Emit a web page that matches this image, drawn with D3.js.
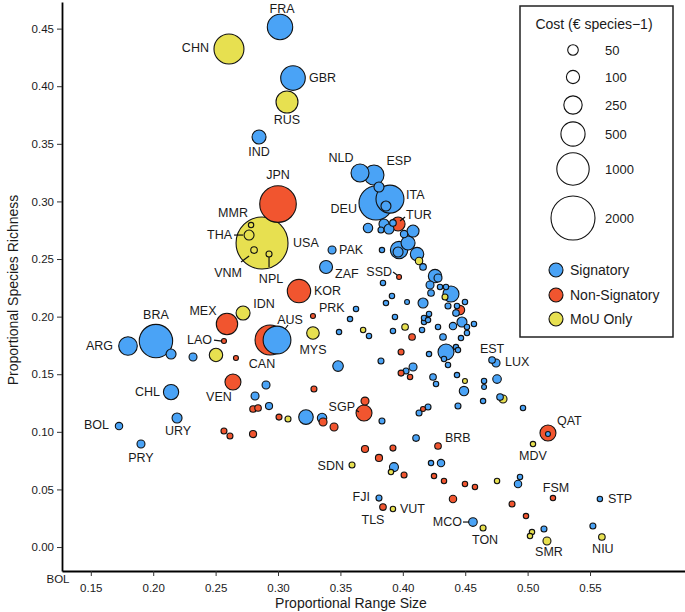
<!DOCTYPE html>
<html>
<head>
<meta charset="utf-8">
<script src="https://cdn.jsdelivr.net/npm/d3@7/dist/d3.min.js"></script>
<style>
  html, body { margin: 0; padding: 0; background: #fff; }
  svg text { font-family: "Liberation Sans", Arial, Helvetica, sans-serif; fill: #1a1a1a; }
</style>
</head>
<body>
<svg id="chart" width="685" height="612"></svg>
<script>
// ---------------- DATA ----------------
// [code, proportional range size, proportional species richness, cost (€ species-1)]
const signatory = [
  ["FRA", 0.3016, 0.4514, 564], ["GBR", 0.3120, 0.4071, 522], ["IND", 0.2848, 0.3559, 119],
  ["NLD", 0.3657, 0.3247, 237], ["ESP", 0.3769, 0.3229, 312], ["DEU", 0.3785, 0.2986, 1118],
  ["ITA", 0.3897, 0.3020, 711], ["PAK", 0.3433, 0.2578, 17], ["ZAF", 0.3385, 0.2431, 95],
  ["AUS", 0.2992, 0.1797, 700], ["ARG", 0.1798, 0.1745, 259], ["BRA", 0.2022, 0.1788, 1073],
  ["CHL", 0.2143, 0.1345, 153], ["BOL", 0.1726, 0.1050, 12], ["URY", 0.2191, 0.1120, 41],
  ["PRY", 0.1902, 0.0894, 17], ["FJI", 0.3809, 0.0425, 3.6], ["EST", 0.4715, 0.1623, 6.6],
  ["LUX", 0.4747, 0.1597, 17], ["STP", 0.5579, 0.0417, 1.5], ["MCO", 0.4562, 0.0217, 23],
  ["", 0.5163, 0.0981, 0.5],
  ["", 0.3809, 0.3125, 41], ["", 0.3865, 0.2960, 41],
  ["", 0.2143, 0.1675, 41], ["", 0.2319, 0.1649, 17], ["", 0.2816, 0.1311, 17],
  ["", 0.2904, 0.1406, 17], ["", 0.2928, 0.1224, 10], ["", 0.3224, 0.1128, 134],
  ["", 0.3353, 0.1120, 33], ["", 0.3481, 0.1571, 50], ["", 0.3825, 0.1615, 3.6],
  ["", 0.4082, 0.1563, 17], ["", 0.4026, 0.1528, 3.6], ["", 0.3833, 0.1094, 3.6],
  ["", 0.4130, 0.1163, 3.6], ["", 0.4202, 0.1215, 3.6], ["", 0.4106, 0.0946, 6.6],
  ["", 0.3929, 0.0694, 28], ["", 0.4242, 0.1476, 6.6], ["", 0.4266, 0.1415, 1.5],
  ["", 0.4362, 0.1580, 1.5], ["", 0.4330, 0.1632, 1.5], ["", 0.4434, 0.1493, 1.5],
  ["", 0.4490, 0.1354, 33], ["", 0.4651, 0.1441, 1.5], ["", 0.4651, 0.1389, 0.5],
  ["", 0.4755, 0.1458, 23], ["", 0.4779, 0.1302, 6.6], ["", 0.4643, 0.1267, 1.5],
  ["", 0.4442, 0.1224, 3.6], ["", 0.4963, 0.1207, 1.5], ["", 0.4226, 0.0729, 1.5],
  ["", 0.4306, 0.0729, 12], ["", 0.4939, 0.0608, 1.5], ["", 0.4923, 0.0547, 12],
  ["", 0.5131, 0.0156, 3.6], ["", 0.5523, 0.0182, 3.6], ["", 0.4210, 0.1675, 1.5],
  ["", 0.4322, 0.1823, 6.6], ["", 0.4466, 0.1814, 1.5], ["", 0.4426, 0.1736, 1.5],
  ["", 0.4442, 0.1710, 1.5], ["", 0.3489, 0.1866, 1.5], ["", 0.3729, 0.1832, 1.5],
  ["", 0.3921, 0.1875, 1.5], ["", 0.4154, 0.1884, 1.5], ["", 0.4170, 0.1953, 1.5],
  ["", 0.4282, 0.1910, 1.5], ["", 0.4402, 0.1918, 12], ["", 0.4474, 0.1953, 41],
  ["", 0.4514, 0.1910, 1.5], ["", 0.4514, 0.1858, 1.5], ["", 0.4570, 0.1936, 1.5],
  ["", 0.3577, 0.1979, 1.5], ["", 0.3625, 0.2066, 1.5], ["", 0.3937, 0.1997, 1.5],
  ["", 0.3913, 0.2179, 1.5], ["", 0.4034, 0.2127, 0.5], ["", 0.3865, 0.2118, 1.5],
  ["", 0.3841, 0.2292, 1.5], ["", 0.3833, 0.2578, 1.5], ["", 0.3721, 0.2769, 33],
  ["", 0.3849, 0.2804, 41], ["", 0.3889, 0.2760, 41], ["", 0.3825, 0.2752, 3.6],
  ["", 0.3921, 0.2813, 6.6], ["", 0.4082, 0.2743, 75], ["", 0.4010, 0.2717, 12],
  ["", 0.3970, 0.2578, 217], ["", 0.4042, 0.2639, 119], ["", 0.3962, 0.2561, 41],
  ["", 0.4114, 0.2543, 105], ["", 0.4162, 0.2431, 6.6], ["", 0.4258, 0.2352, 105],
  ["", 0.4282, 0.2335, 17], ["", 0.4218, 0.2274, 17], ["", 0.4226, 0.2205, 6.6],
  ["", 0.4298, 0.2257, 1.5], ["", 0.4346, 0.2257, 1.5], ["", 0.4386, 0.2196, 173],
  ["", 0.4362, 0.2092, 3.6], ["", 0.4434, 0.2092, 1.5], ["", 0.4426, 0.2031, 6.6],
  ["", 0.4498, 0.2127, 1.5], ["", 0.4162, 0.2118, 41], ["", 0.4170, 0.1988, 1.5],
  ["", 0.4210, 0.2023, 1.5], ["", 0.4202, 0.1970, 1.5], ["", 0.4346, 0.1693, 173]
];

const nonSignatory = [
  ["JPN", 0.3000, 0.2977, 1321], ["TUR", 0.3962, 0.2804, 119], ["KOR", 0.3168, 0.2222, 461],
  ["SSD", 0.3970, 0.2344, 0.5], ["PRK", 0.3280, 0.2005, 0.6], ["MEX", 0.2591, 0.1936, 370],
  ["LAO", 0.2567, 0.1788, 0.6], ["CAN", 0.2936, 0.1797, 836], ["VEN", 0.2639, 0.1432, 173],
  ["SGP", 0.3689, 0.1163, 173], ["TLS", 0.3841, 0.0347, 6.6], ["QAT", 0.5163, 0.0990, 173],
  ["BRB", 0.4282, 0.0877, 6.6], ["FSM", 0.5203, 0.0425, 1.5],
  ["", 0.2663, 0.1641, 0.6], ["", 0.2800, 0.1198, 6.6], ["", 0.2840, 0.1207, 6.6],
  ["", 0.2567, 0.1007, 3.6], ["", 0.2615, 0.0964, 3.6], ["", 0.2800, 0.0981, 10],
  ["", 0.3288, 0.1372, 3.6], ["", 0.3008, 0.1128, 3.6], ["", 0.3361, 0.1085, 17],
  ["", 0.3449, 0.1042, 17], ["", 0.3697, 0.1267, 17], ["", 0.3986, 0.1510, 3.6],
  ["", 0.4058, 0.1476, 1.5], ["", 0.3986, 0.1693, 3.6], ["", 0.4074, 0.1823, 6.6],
  ["", 0.4162, 0.1198, 0.6], ["", 0.3697, 0.0851, 10], ["", 0.3809, 0.0773, 10],
  ["", 0.3921, 0.0859, 3.6], ["", 0.4010, 0.0625, 3.6], ["", 0.4250, 0.0616, 1.5],
  ["", 0.4330, 0.0573, 1.5], ["", 0.4498, 0.0547, 1.5], ["", 0.4578, 0.0521, 1.5],
  ["", 0.4402, 0.0417, 12], ["", 0.4875, 0.0373, 3.6], ["", 0.4987, 0.0269, 1.5],
  ["", 0.4458, 0.2057, 33]
];

const mouOnly = [
  ["CHN", 0.2607, 0.4323, 836], ["RUS", 0.3072, 0.3863, 396], ["USA", 0.2872, 0.2639, 2880],
  ["MMR", 0.2784, 0.2795, 1.5], ["THA", 0.2768, 0.2708, 41], ["VNM", 0.2808, 0.2578, 6.6],
  ["NPL", 0.2928, 0.2543, 3.6], ["IDN", 0.2720, 0.2031, 119], ["MYS", 0.3280, 0.1858, 87],
  ["SDN", 0.3593, 0.0712, 3.6], ["VUT", 0.3921, 0.0330, 1.5], ["MDV", 0.5043, 0.0894, 1.5],
  ["TON", 0.4643, 0.0165, 3.6], ["SMR", 0.5155, 0.0052, 17], ["NIU", 0.5595, 0.0087, 6.6],
  ["", 0.2503, 0.1667, 105], ["", 0.3080, 0.1111, 3.6], ["", 0.3905, 0.0651, 1.5],
  ["", 0.4130, 0.2483, 12], ["", 0.4338, 0.2170, 3.6], ["", 0.3682, 0.1884, 1.5],
  ["", 0.4018, 0.1910, 6.6], ["", 0.4498, 0.1441, 0.5], ["", 0.4803, 0.1285, 17],
  ["", 0.4755, 0.0573, 1.5], ["", 0.5035, 0.0130, 1.5], ["", 0.5019, 0.0095, 1.5]
];

const xTicks = [0.15, 0.20, 0.25, 0.30, 0.35, 0.40, 0.45, 0.50, 0.55];
const yTicks = [0.00, 0.05, 0.10, 0.15, 0.20, 0.25, 0.30, 0.35, 0.40, 0.45];
const legendCosts = [50, 100, 250, 500, 1000, 2000];
const statusNames = ["Signatory", "Non-Signatory", "MoU Only"];

// ---------------- LAYOUT (labels: offsets in px from the point) ----------------
const labelLayout = {
  FRA: [2, -18, "middle"], CHN: [-20, -1, "end"], GBR: [16, 0, "start"], RUS: [0, 18, "middle"],
  IND: [0, 15, "middle"], NLD: [-19, -15, "middle"], ESP: [25, -14, "middle"], DEU: [-19, 6, "end"],
  ITA: [16, -4, "start"], TUR: [8, -9, "start"], JPN: [0, -29, "middle"], USA: [31, 0, "start"],
  MMR: [-18, -12, "middle"], THA: [-17, 0, "end"], VNM: [-26, 23, "middle"], NPL: [2, 25, "middle"],
  KOR: [15, 0, "start"], PAK: [7, 0, "start"], ZAF: [9, 7, "start"], SSD: [-7, -5, "end"],
  PRK: [6, -8, "start"], IDN: [21, -9, "middle"], MEX: [-24, -13, "middle"], LAO: [-12, -1, "end"],
  AUS: [13, -20, "middle"], CAN: [-8, 24, "middle"], MYS: [0, 17, "middle"], BRA: [0, -26, "middle"],
  ARG: [-15, 0, "end"], CHL: [-11, 0, "end"], VEN: [-14, 15, "middle"], BOL: [-10, -1, "end"],
  URY: [1, 13, "middle"], PRY: [0, 14, "middle"], SGP: [-9, -6, "end"], SDN: [-8, 1, "end"],
  FJI: [-9, -1, "end"], TLS: [-10, 13, "middle"], VUT: [7, 0, "start"], EST: [0, -11, "middle"],
  LUX: [9, -1, "start"], QAT: [9, -12, "start"], MDV: [0, 12, "middle"], BRB: [7, -8, "start"],
  FSM: [3, -10, "middle"], STP: [8, 0, "start"], MCO: [-11, 0, "end"], TON: [2, 12, "middle"],
  SMR: [2, 11, "middle"], NIU: [1, 12, "middle"]
};
const leaderLayout = {
  THA: [[-15, 0], [-6, 0]], VNM: [[-13, 12], [-5, 6]], NPL: [[0, 3], [0, 13]],
  LAO: [[-10, -1], [-2, 0]], AUS: [[11, -15], [8, -11]], SSD: [[-6, -5], [-2, -2]],
  TUR: [[7, -7], [2, -3]], SGP: [[-8, -3], [-5, -1]], MCO: [[-10, 0], [-4, 0]]
};

// ---------------- CHART ----------------
const svg = d3.select("#chart");
const colors = { "Signatory": "#4aa3f6", "Non-Signatory": "#f1552f", "MoU Only": "#e7e050" };

const x = d3.scaleLinear().domain([0.12692, 0.6261]).range([62, 685]);
const y = d3.scaleLinear().domain([-0.0208, 0.4731]).range([571, 2]);
const r = d3.scaleSqrt().domain([0, 2000]).range([2.16, 22]);

const points = [
  ...signatory.map(d => ({ code: d[0], x: d[1], y: d[2], cost: d[3], status: "Signatory" })),
  ...nonSignatory.map(d => ({ code: d[0], x: d[1], y: d[2], cost: d[3], status: "Non-Signatory" })),
  ...mouOnly.map(d => ({ code: d[0], x: d[1], y: d[2], cost: d[3], status: "MoU Only" }))
].sort((a, b) => b.cost - a.cost);

// axes
const xAxis = d3.axisBottom(x).tickValues(xTicks).tickFormat(d3.format(".2f")).tickSize(5).tickSizeOuter(0);
const yAxis = d3.axisLeft(y).tickValues(yTicks).tickFormat(d3.format(".2f")).tickSize(5).tickSizeOuter(0);

const gx = svg.append("g").attr("transform", "translate(0,571)").call(xAxis);
const gy = svg.append("g").attr("transform", "translate(62,0)").call(yAxis);
[gx, gy].forEach(g => {
  g.select(".domain").attr("stroke", "#000").attr("stroke-width", 1.8);
  g.selectAll(".tick line").attr("stroke", "#333").attr("stroke-width", 1);
  g.selectAll(".tick text").attr("font-size", 11.5).attr("fill", "#333")
    .style("font-family", "'Liberation Sans', Arial, sans-serif");
});
gx.selectAll(".tick text").attr("dy", "1.1em");

svg.append("text").attr("x", 351).attr("y", 608).attr("text-anchor", "middle")
  .attr("font-size", 14).text("Proportional Range Size");
svg.append("text").attr("transform", "translate(18,290) rotate(-90)").attr("text-anchor", "middle")
  .attr("font-size", 14).text("Proportional Species Richness");
// stray label beneath axis in the source figure
svg.append("text").attr("x", 58).attr("y", 583).attr("text-anchor", "middle")
  .attr("font-size", 11.5).attr("fill", "#333").text("BOL");

// points
svg.append("g").selectAll("circle").data(points).join("circle")
  .attr("cx", d => x(d.x)).attr("cy", d => y(d.y)).attr("r", d => r(d.cost))
  .attr("fill", d => colors[d.status]).attr("stroke", "#111").attr("stroke-width", 1.1);

// leaders
const byCode = new Map(points.filter(d => d.code).map(d => [d.code, d]));
const lg = svg.append("g");
Object.entries(leaderLayout).forEach(([code, seg]) => {
  const p = byCode.get(code);
  lg.append("line")
    .attr("x1", x(p.x) + seg[0][0]).attr("y1", y(p.y) + seg[0][1])
    .attr("x2", x(p.x) + seg[1][0]).attr("y2", y(p.y) + seg[1][1])
    .attr("stroke", "#111").attr("stroke-width", 1.2);
});

// labels
svg.append("g").selectAll("text").data(points.filter(d => d.code && labelLayout[d.code])).join("text")
  .attr("x", d => x(d.x) + labelLayout[d.code][0])
  .attr("y", d => y(d.y) + labelLayout[d.code][1])
  .attr("text-anchor", d => labelLayout[d.code][2])
  .attr("dominant-baseline", "central")
  .attr("font-size", 12.5).text(d => d.code);

// legend
const leg = svg.append("g");
leg.append("rect").attr("x", 520).attr("y", 6).attr("width", 153).attr("height", 331)
  .attr("fill", "#fff").attr("stroke", "#222").attr("stroke-width", 1.5);
leg.append("text").attr("x", 594).attr("y", 24).attr("text-anchor", "middle")
  .attr("dominant-baseline", "central").attr("font-size", 14).text("Cost (€ species−1)");
const legY = [50, 77, 105, 134, 169, 218];
legendCosts.forEach((c, i) => {
  leg.append("circle").attr("cx", 573).attr("cy", legY[i]).attr("r", r(c))
    .attr("fill", "#fff").attr("stroke", "#111").attr("stroke-width", 1.1);
  leg.append("text").attr("x", 605).attr("y", legY[i]).attr("dominant-baseline", "central")
    .attr("font-size", 13).text(c);
});
const statY = [270, 295, 319];
statusNames.forEach((s, i) => {
  leg.append("circle").attr("cx", 556).attr("cy", statY[i]).attr("r", 7)
    .attr("fill", colors[s]).attr("stroke", "#111").attr("stroke-width", 1.1);
  leg.append("text").attr("x", 570).attr("y", statY[i]).attr("dominant-baseline", "central")
    .attr("font-size", 14).text(s);
});
</script>
</body>
</html>
